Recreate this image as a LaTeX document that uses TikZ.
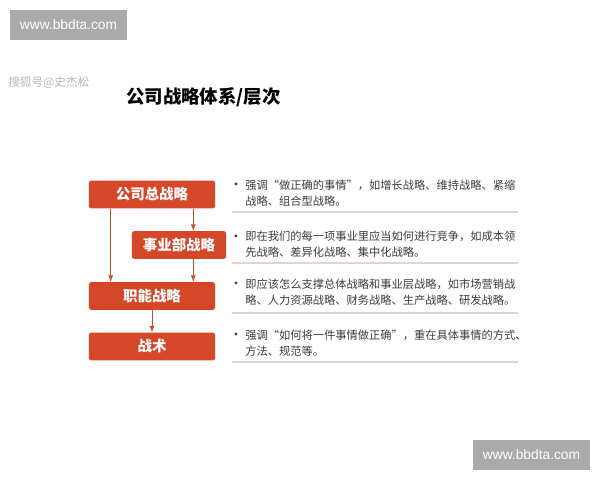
\documentclass[tikz,border=0pt]{standalone}
\usepackage{fontspec}
\newfontfamily\cjk{Noto Sans CJK SC}
\setsansfont{Liberation Sans}
\usetikzlibrary{calc}
\usetikzlibrary{arrows}

\definecolor{zhuhong}{RGB}{213,71,41}
\definecolor{darktext}{RGB}{60,60,60}
\definecolor{sepline}{RGB}{226,213,207}
\definecolor{wmgray}{RGB}{170,170,170}

\begin{document}
\begin{tikzpicture}[x=0.025cm,y=-0.025cm]
	\tikzstyle{lvl}=[rectangle,fill=zhuhong,rounded corners=1.5pt,text=white,inner sep=0pt,
		font=\cjk\bfseries\fontsize{10.3}{12}\selectfont,minimum width=3.15cm,minimum height=0.69cm]
	\tikzstyle{arr}=[->,>=latex,draw=zhuhong,line width=0.6pt]
	\tikzstyle{desc}=[anchor=west,align=left,text=darktext,inner sep=0pt,
		font=\cjk\fontsize{8}{11.3}\selectfont]
	\tikzstyle{dot}=[text=darktext,inner sep=0pt,font=\cjk\fontsize{9.5}{9.5}\selectfont]
	\tikzstyle{sep}=[draw=sepline,line width=1pt]
	\tikzstyle{wbox}=[rectangle,fill=wmgray,text=white,minimum width=2.925cm,minimum height=0.75cm,
		font=\sffamily\fontsize{9.8}{10}\selectfont]

	\useasboundingbox[fill=white] (0,0) rectangle (600,480);

	% watermarks and title
	\node[wbox] (wm1) at (68.5,25) {www.bbdta.com};
	\node[wbox] (wm2) at (531.5,455) {www.bbdta.com};
	\node[anchor=west,inner sep=0pt,text=black!28,font=\cjk\fontsize{8.3}{9}\selectfont] (sohu) at (8,83) {搜狐号@史杰松};
	\node[anchor=west,inner sep=0pt,font=\cjk\bfseries\fontsize{13.1}{15}\selectfont] (title) at (126,97) {公司战略体系/层次};

	% levels
	\node[lvl] (zong) at (152,194.5) {公司总战略};
	\node[lvl,minimum width=2.35cm] (shiye) at (179,245) {事业部战略};
	\node[lvl] (zhineng) at (152,296) {职能战略};
	\node[lvl] (zhanshu) at (152,346.5) {战术};

	\coordinate (lx) at ($(zong.south west)+(22,0)$);
	\coordinate (rx) at ($(zong.south east)+(-22,0)$);
	\draw[arr] (lx) -- (lx |- zhineng.north);
	\draw[arr] (rx) -- (rx |- shiye.north);
	\draw[arr] (rx |- shiye.south) -- (rx |- zhineng.north);
	\draw[arr] (zhineng.south) -- (zhanshu.north);

	% descriptions
	\node[dot] (b1) at (236,186) {•};
	\node[desc] (d1) at (245,193) {强调“做正确的事情”，如增长战略、维持战略、紧缩\\战略、组合型战略。};
	\node[dot] (b2) at (236,238) {•};
	\node[desc] (d2) at (245,244) {即在我们的每一项事业里应当如何进行竞争，如成本领\\先战略、差异化战略、集中化战略。};
	\node[dot] (b3) at (236,285) {•};
	\node[desc] (d3) at (245,292) {即应该怎么支撑总体战略和事业层战略，如市场营销战\\略、人力资源战略、财务战略、生产战略、研发战略。};
	\node[dot] (b4) at (236,336) {•};
	\node[desc] (d4) at (245,343) {强调“如何将一件事情做正确”，重在具体事情的方式、\\方法、规范等。};

	\foreach \y in {212,263,313,362}
		\draw[sep] (232,\y) -- (518,\y);
\end{tikzpicture}
\end{document}
